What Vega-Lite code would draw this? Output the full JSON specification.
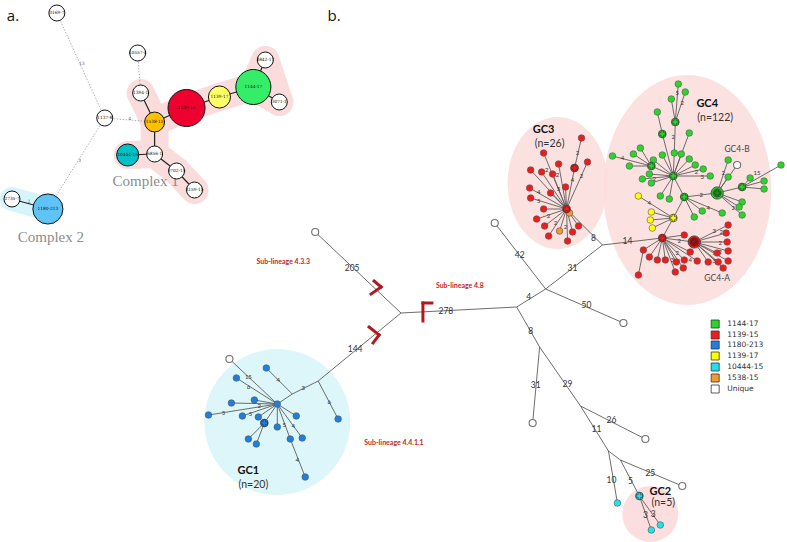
{
  "$schema": "https://vega.github.io/schema/vega-lite/v6.json",
  "width": 787,
  "height": 542,
  "autosize": {"type": "fit", "contains": "padding"},
  "padding": 0,
  "background": "white",
  "config": {"view": {"stroke": null}},
  "datasets": {
    "nodesA": [
      {"id": "3169-7", "x": 55, "y": 13, "type": "Unique", "n": 1},
      {"id": "10557-4", "x": 136, "y": 53, "type": "Unique", "n": 1},
      {"id": "3842-17", "x": 264, "y": 60, "type": "Unique", "n": 1},
      {"id": "1394-1", "x": 139, "y": 93, "type": "Unique", "n": 1},
      {"id": "1139-15", "x": 185, "y": 108, "type": "1139-15", "n": 25},
      {"id": "1139-17", "x": 218, "y": 97, "type": "1139-17", "n": 6},
      {"id": "1144-17", "x": 252, "y": 87, "type": "1144-17", "n": 22},
      {"id": "3071-1", "x": 278, "y": 102, "type": "Unique", "n": 1},
      {"id": "1137-8", "x": 103, "y": 118, "type": "Unique", "n": 1},
      {"id": "1538-15", "x": 153, "y": 122, "type": "1538-15", "n": 4},
      {"id": "10444-15", "x": 126, "y": 155, "type": "10444-15", "n": 6},
      {"id": "6856-1", "x": 153, "y": 154, "type": "Unique", "n": 1},
      {"id": "3702-15", "x": 175, "y": 171, "type": "Unique", "n": 1},
      {"id": "3159-15", "x": 193, "y": 190, "type": "Unique", "n": 1},
      {"id": "2735-7", "x": 10, "y": 199, "type": "Unique", "n": 1},
      {"id": "1180-213", "x": 46, "y": 209, "type": "1180-213", "n": 15}
    ],
    "edgesA": [
      {"s": "1394-1", "t": "1538-15", "st": "solid"},
      {"s": "1538-15", "t": "1139-15", "st": "solid"},
      {"s": "1139-15", "t": "1139-17", "st": "solid"},
      {"s": "1139-17", "t": "1144-17", "st": "solid"},
      {"s": "1144-17", "t": "3842-17", "st": "solid"},
      {"s": "1144-17", "t": "3071-1", "st": "solid"},
      {"s": "1538-15", "t": "6856-1", "st": "solid"},
      {"s": "6856-1", "t": "10444-15", "st": "solid"},
      {"s": "6856-1", "t": "3702-15", "st": "solid"},
      {"s": "3702-15", "t": "3159-15", "st": "solid"},
      {"s": "2735-7", "t": "1180-213", "st": "solid"},
      {"s": "3169-7", "t": "1137-8", "st": "dotted"},
      {"s": "10557-4", "t": "1394-1", "st": "dotted"},
      {"s": "1137-8", "t": "1538-15", "st": "dotted"},
      {"s": "1137-8", "t": "1180-213", "st": "dotted"}
    ],
    "hullA": [
      {"s": "1394-1", "t": "1538-15", "g": "c1"},
      {"s": "1538-15", "t": "1139-15", "g": "c1"},
      {"s": "1139-15", "t": "1139-17", "g": "c1"},
      {"s": "1139-17", "t": "1144-17", "g": "c1"},
      {"s": "1144-17", "t": "3842-17", "g": "c1"},
      {"s": "1144-17", "t": "3071-1", "g": "c1"},
      {"s": "3842-17", "t": "3071-1", "g": "c1"},
      {"s": "1538-15", "t": "6856-1", "g": "c1"},
      {"s": "6856-1", "t": "10444-15", "g": "c1"},
      {"s": "6856-1", "t": "3702-15", "g": "c1"},
      {"s": "3702-15", "t": "3159-15", "g": "c1"},
      {"s": "2735-7", "t": "1180-213", "g": "c2"}
    ],
    "legendB": [
      {"type": "1144-17", "x": 715, "y": 324},
      {"type": "1139-15", "x": 715, "y": 335},
      {"type": "1180-213", "x": 715, "y": 345},
      {"type": "1139-17", "x": 715, "y": 356},
      {"type": "10444-15", "x": 715, "y": 367},
      {"type": "1538-15", "x": 715, "y": 378},
      {"type": "Unique", "x": 715, "y": 389}
    ],
    "nodesB": [
      {"id": "A", "x": 400, "y": 313, "type": "J", "kind": "j"},
      {"id": "B", "x": 516, "y": 307, "type": "J", "kind": "j"},
      {"id": "C", "x": 545, "y": 289, "type": "J", "kind": "j"},
      {"id": "D", "x": 602, "y": 245, "type": "J", "kind": "j"},
      {"id": "E", "x": 539, "y": 347, "type": "J", "kind": "j"},
      {"id": "F", "x": 580, "y": 406, "type": "J", "kind": "j"},
      {"id": "G", "x": 608, "y": 451, "type": "J", "kind": "j"},
      {"id": "G2j", "x": 620, "y": 460, "type": "J", "kind": "j"},
      {"id": "J1", "x": 317, "y": 381, "type": "J", "kind": "j"},
      {"id": "J2", "x": 291, "y": 394, "type": "J", "kind": "j"},
      {"id": "L433", "x": 314, "y": 232, "type": "Unique", "kind": "u"},
      {"id": "L42", "x": 494, "y": 223, "type": "Unique", "kind": "u"},
      {"id": "L50", "x": 623, "y": 323, "type": "Unique", "kind": "u"},
      {"id": "L31b", "x": 532, "y": 423, "type": "Unique", "kind": "u"},
      {"id": "L26", "x": 645, "y": 439, "type": "Unique", "kind": "u"},
      {"id": "L25", "x": 682, "y": 486, "type": "Unique", "kind": "u"},
      {"id": "u15", "x": 228, "y": 359, "type": "Unique", "kind": "u"},
      {"id": "U1", "x": 737, "y": 165, "type": "Unique", "kind": "u"},
      {"id": "C10", "x": 617, "y": 503, "type": "10444-15", "kind": "l"},
      {"id": "GC2h", "x": 639, "y": 496, "type": "10444-15", "kind": "h"},
      {"id": "C3a", "x": 651, "y": 530, "type": "10444-15", "kind": "l"},
      {"id": "C3b", "x": 660, "y": 525, "type": "10444-15", "kind": "l"},
      {"id": "GC1h", "x": 276, "y": 404, "type": "1180-213", "kind": "l"},
      {"id": "b6", "x": 337, "y": 419, "type": "1180-213", "kind": "l"},
      {"id": "b4", "x": 265, "y": 368, "type": "1180-213", "kind": "l"},
      {"id": "b01", "x": 235, "y": 378, "type": "1180-213", "kind": "l"},
      {"id": "b02", "x": 230, "y": 403, "type": "1180-213", "kind": "l"},
      {"id": "b03", "x": 253, "y": 400, "type": "1180-213", "kind": "l"},
      {"id": "b04", "x": 207, "y": 415, "type": "1180-213", "kind": "l"},
      {"id": "b05", "x": 241, "y": 416, "type": "1180-213", "kind": "l"},
      {"id": "b06", "x": 257, "y": 417, "type": "1180-213", "kind": "l"},
      {"id": "b07", "x": 263, "y": 423, "type": "1180-213", "kind": "h"},
      {"id": "b08", "x": 247, "y": 439, "type": "1180-213", "kind": "l"},
      {"id": "b09", "x": 255, "y": 444, "type": "1180-213", "kind": "l"},
      {"id": "b10", "x": 276, "y": 427, "type": "1180-213", "kind": "l"},
      {"id": "b11", "x": 295, "y": 416, "type": "1180-213", "kind": "l"},
      {"id": "b12", "x": 301, "y": 438, "type": "1180-213", "kind": "l"},
      {"id": "b13", "x": 289, "y": 439, "type": "1180-213", "kind": "l"},
      {"id": "b14", "x": 304, "y": 477, "type": "1180-213", "kind": "l"},
      {"id": "GC3h", "x": 566, "y": 209, "type": "1139-15", "kind": "h"},
      {"id": "r01", "x": 581, "y": 138, "type": "1139-15", "kind": "l"},
      {"id": "r02", "x": 543, "y": 153, "type": "1139-15", "kind": "l"},
      {"id": "r03", "x": 587, "y": 162, "type": "1139-15", "kind": "l"},
      {"id": "r04", "x": 530, "y": 170, "type": "1139-15", "kind": "l"},
      {"id": "r05", "x": 541, "y": 172, "type": "1139-15", "kind": "l"},
      {"id": "r06", "x": 552, "y": 174, "type": "1139-15", "kind": "l"},
      {"id": "r07", "x": 558, "y": 164, "type": "1139-15", "kind": "l"},
      {"id": "r08", "x": 574, "y": 168, "type": "1139-15", "kind": "h"},
      {"id": "r09", "x": 529, "y": 188, "type": "1139-15", "kind": "l"},
      {"id": "r10", "x": 550, "y": 193, "type": "1139-15", "kind": "l"},
      {"id": "r11", "x": 565, "y": 187, "type": "1139-15", "kind": "l"},
      {"id": "r12", "x": 530, "y": 198, "type": "1139-15", "kind": "l"},
      {"id": "r13", "x": 543, "y": 209, "type": "1139-15", "kind": "l"},
      {"id": "r14", "x": 536, "y": 219, "type": "1139-15", "kind": "l"},
      {"id": "r15", "x": 544, "y": 226, "type": "1139-15", "kind": "l"},
      {"id": "r16", "x": 548, "y": 236, "type": "1139-15", "kind": "l"},
      {"id": "r17", "x": 572, "y": 232, "type": "1139-15", "kind": "l"},
      {"id": "r18", "x": 567, "y": 241, "type": "1139-15", "kind": "l"},
      {"id": "r19", "x": 578, "y": 226, "type": "1139-15", "kind": "l"},
      {"id": "o1", "x": 559, "y": 231, "type": "1538-15", "kind": "l"},
      {"id": "o2", "x": 569, "y": 213, "type": "1538-15", "kind": "l"},
      {"id": "H1", "x": 673, "y": 176, "type": "1144-17", "kind": "h"},
      {"id": "H2", "x": 717, "y": 193, "type": "1144-17", "kind": "H"},
      {"id": "H3", "x": 684, "y": 197, "type": "1144-17", "kind": "h"},
      {"id": "H4", "x": 673, "y": 218, "type": "1139-17", "kind": "h"},
      {"id": "H5", "x": 662, "y": 238, "type": "1139-15", "kind": "h"},
      {"id": "H6", "x": 694, "y": 242, "type": "1139-15", "kind": "H"},
      {"id": "H7", "x": 675, "y": 122, "type": "1144-17", "kind": "h"},
      {"id": "H8", "x": 662, "y": 134, "type": "1144-17", "kind": "h"},
      {"id": "H9", "x": 651, "y": 166, "type": "1144-17", "kind": "h"},
      {"id": "H10", "x": 742, "y": 187, "type": "1144-17", "kind": "h"},
      {"id": "g01", "x": 678, "y": 84, "type": "1144-17", "kind": "l"},
      {"id": "g02", "x": 685, "y": 92, "type": "1144-17", "kind": "l"},
      {"id": "g03", "x": 671, "y": 99, "type": "1144-17", "kind": "l"},
      {"id": "g04", "x": 657, "y": 112, "type": "1144-17", "kind": "l"},
      {"id": "g05", "x": 689, "y": 133, "type": "1144-17", "kind": "l"},
      {"id": "g06", "x": 674, "y": 153, "type": "1144-17", "kind": "l"},
      {"id": "g07", "x": 681, "y": 154, "type": "1144-17", "kind": "l"},
      {"id": "g08", "x": 662, "y": 155, "type": "1144-17", "kind": "l"},
      {"id": "g09", "x": 612, "y": 156, "type": "1144-17", "kind": "l"},
      {"id": "g10", "x": 640, "y": 148, "type": "1144-17", "kind": "l"},
      {"id": "g11", "x": 633, "y": 154, "type": "1144-17", "kind": "l"},
      {"id": "g12", "x": 629, "y": 166, "type": "1144-17", "kind": "l"},
      {"id": "g13", "x": 653, "y": 160, "type": "1144-17", "kind": "l"},
      {"id": "g14", "x": 689, "y": 159, "type": "1144-17", "kind": "l"},
      {"id": "g15", "x": 695, "y": 165, "type": "1144-17", "kind": "l"},
      {"id": "g16", "x": 703, "y": 169, "type": "1144-17", "kind": "l"},
      {"id": "g17", "x": 710, "y": 176, "type": "1144-17", "kind": "l"},
      {"id": "g18", "x": 649, "y": 174, "type": "1144-17", "kind": "l"},
      {"id": "g19", "x": 642, "y": 179, "type": "1144-17", "kind": "l"},
      {"id": "g20", "x": 651, "y": 183, "type": "1144-17", "kind": "l"},
      {"id": "g21", "x": 660, "y": 196, "type": "1144-17", "kind": "l"},
      {"id": "g22", "x": 669, "y": 199, "type": "1144-17", "kind": "l"},
      {"id": "g23", "x": 694, "y": 217, "type": "1144-17", "kind": "l"},
      {"id": "g24", "x": 702, "y": 211, "type": "1144-17", "kind": "l"},
      {"id": "g25", "x": 722, "y": 213, "type": "1144-17", "kind": "l"},
      {"id": "g26", "x": 728, "y": 160, "type": "1144-17", "kind": "l"},
      {"id": "g27", "x": 728, "y": 177, "type": "1144-17", "kind": "l"},
      {"id": "g28", "x": 742, "y": 202, "type": "1144-17", "kind": "l"},
      {"id": "g29", "x": 739, "y": 207, "type": "1144-17", "kind": "l"},
      {"id": "g30", "x": 742, "y": 215, "type": "1144-17", "kind": "l"},
      {"id": "g31", "x": 750, "y": 178, "type": "1144-17", "kind": "l"},
      {"id": "g32", "x": 764, "y": 181, "type": "1144-17", "kind": "l"},
      {"id": "g33", "x": 764, "y": 189, "type": "1144-17", "kind": "l"},
      {"id": "g34", "x": 781, "y": 165, "type": "1144-17", "kind": "l"},
      {"id": "y1", "x": 638, "y": 196, "type": "1139-17", "kind": "l"},
      {"id": "y2", "x": 651, "y": 212, "type": "1139-17", "kind": "l"},
      {"id": "y3", "x": 650, "y": 220, "type": "1139-17", "kind": "l"},
      {"id": "y4", "x": 652, "y": 228, "type": "1139-17", "kind": "l"},
      {"id": "r20", "x": 643, "y": 250, "type": "1139-15", "kind": "l"},
      {"id": "r21", "x": 638, "y": 275, "type": "1139-15", "kind": "l"},
      {"id": "r22", "x": 649, "y": 257, "type": "1139-15", "kind": "l"},
      {"id": "r23", "x": 657, "y": 260, "type": "1139-15", "kind": "l"},
      {"id": "r24", "x": 665, "y": 260, "type": "1139-15", "kind": "l"},
      {"id": "r25", "x": 684, "y": 235, "type": "1139-15", "kind": "l"},
      {"id": "r26", "x": 676, "y": 262, "type": "1139-15", "kind": "l"},
      {"id": "r27", "x": 684, "y": 260, "type": "1139-15", "kind": "l"},
      {"id": "r28", "x": 690, "y": 252, "type": "1139-15", "kind": "l"},
      {"id": "r29", "x": 675, "y": 272, "type": "1139-15", "kind": "l"},
      {"id": "r30", "x": 683, "y": 268, "type": "1139-15", "kind": "l"},
      {"id": "r31", "x": 697, "y": 261, "type": "1139-15", "kind": "l"},
      {"id": "r32", "x": 708, "y": 262, "type": "1139-15", "kind": "l"},
      {"id": "r33", "x": 718, "y": 262, "type": "1139-15", "kind": "l"},
      {"id": "r34", "x": 728, "y": 261, "type": "1139-15", "kind": "l"},
      {"id": "r35", "x": 723, "y": 268, "type": "1139-15", "kind": "l"},
      {"id": "r36", "x": 728, "y": 225, "type": "1139-15", "kind": "l"},
      {"id": "r37", "x": 726, "y": 233, "type": "1139-15", "kind": "l"},
      {"id": "r38", "x": 727, "y": 242, "type": "1139-15", "kind": "l"},
      {"id": "r39", "x": 728, "y": 251, "type": "1139-15", "kind": "l"},
      {"id": "r40", "x": 717, "y": 253, "type": "1139-15", "kind": "l"}
    ],
    "edgesB": [
      {"s": "A", "t": "L433"}, {"s": "A", "t": "B"}, {"s": "A", "t": "J1"},
      {"s": "B", "t": "C"}, {"s": "C", "t": "L42"}, {"s": "C", "t": "L50"}, {"s": "C", "t": "D"},
      {"s": "D", "t": "GC3h"}, {"s": "D", "t": "H5"},
      {"s": "B", "t": "E"}, {"s": "E", "t": "L31b"}, {"s": "E", "t": "F"}, {"s": "F", "t": "L26"}, {"s": "F", "t": "G"},
      {"s": "G", "t": "C10"}, {"s": "G", "t": "G2j"}, {"s": "G2j", "t": "GC2h"}, {"s": "G2j", "t": "L25"},
      {"s": "GC2h", "t": "C3a"}, {"s": "GC2h", "t": "C3b"},
      {"s": "J1", "t": "b6"}, {"s": "J1", "t": "J2"}, {"s": "J2", "t": "b4"}, {"s": "J2", "t": "GC1h"},
      {"s": "GC1h", "t": "u15"}, {"s": "GC1h", "t": "b01"}, {"s": "GC1h", "t": "b02"}, {"s": "GC1h", "t": "b03"},
      {"s": "GC1h", "t": "b04"}, {"s": "GC1h", "t": "b05"}, {"s": "GC1h", "t": "b06"}, {"s": "GC1h", "t": "b07"},
      {"s": "GC1h", "t": "b10"}, {"s": "GC1h", "t": "b11"}, {"s": "GC1h", "t": "b12"}, {"s": "GC1h", "t": "b13"},
      {"s": "b07", "t": "b08"}, {"s": "b07", "t": "b09"}, {"s": "b13", "t": "b14"},
      {"s": "r01", "t": "r08"}, {"s": "r08", "t": "GC3h"},
      {"s": "GC3h", "t": "r02"}, {"s": "GC3h", "t": "r03"}, {"s": "GC3h", "t": "r04"}, {"s": "GC3h", "t": "r05"},
      {"s": "GC3h", "t": "r06"}, {"s": "GC3h", "t": "r07"}, {"s": "GC3h", "t": "r09"}, {"s": "GC3h", "t": "r10"},
      {"s": "GC3h", "t": "r11"}, {"s": "GC3h", "t": "r12"}, {"s": "GC3h", "t": "r13"}, {"s": "GC3h", "t": "r14"},
      {"s": "GC3h", "t": "r15"}, {"s": "GC3h", "t": "r16"}, {"s": "GC3h", "t": "r17"}, {"s": "GC3h", "t": "r18"},
      {"s": "GC3h", "t": "r19"}, {"s": "GC3h", "t": "o1"},
      {"s": "H7", "t": "g01"}, {"s": "H7", "t": "g02"}, {"s": "H7", "t": "g03"}, {"s": "H7", "t": "g06"},
      {"s": "g06", "t": "H1"}, {"s": "H8", "t": "g04"}, {"s": "H8", "t": "H1"}, {"s": "g05", "t": "H1"},
      {"s": "g07", "t": "H1"}, {"s": "g08", "t": "H1"},
      {"s": "H9", "t": "g09"}, {"s": "H9", "t": "g10"}, {"s": "H9", "t": "g11"}, {"s": "H9", "t": "g12"}, {"s": "H9", "t": "H1"},
      {"s": "g13", "t": "H1"}, {"s": "g14", "t": "H1"}, {"s": "g15", "t": "H1"}, {"s": "g16", "t": "H1"}, {"s": "g17", "t": "H1"},
      {"s": "g18", "t": "H1"}, {"s": "g19", "t": "H1"}, {"s": "g20", "t": "H1"}, {"s": "g21", "t": "H1"}, {"s": "g22", "t": "H1"},
      {"s": "H1", "t": "H3"}, {"s": "H3", "t": "g23"}, {"s": "H3", "t": "g24"}, {"s": "H3", "t": "g25"}, {"s": "H3", "t": "H2"},
      {"s": "H2", "t": "g26"}, {"s": "H2", "t": "U1"}, {"s": "H2", "t": "g27"}, {"s": "H2", "t": "g28"},
      {"s": "H2", "t": "g29"}, {"s": "H2", "t": "g30"}, {"s": "H2", "t": "H10"},
      {"s": "H10", "t": "g31"}, {"s": "H10", "t": "g32"}, {"s": "H10", "t": "g33"}, {"s": "H10", "t": "g34"},
      {"s": "H3", "t": "H4"}, {"s": "H4", "t": "y1"}, {"s": "H4", "t": "y2"}, {"s": "H4", "t": "y3"}, {"s": "H4", "t": "y4"},
      {"s": "H4", "t": "H5"}, {"s": "H5", "t": "r20"}, {"s": "r20", "t": "r21"},
      {"s": "H5", "t": "r22"}, {"s": "H5", "t": "r23"}, {"s": "H5", "t": "r24"}, {"s": "H5", "t": "r25"},
      {"s": "H5", "t": "r26"}, {"s": "H5", "t": "r27"}, {"s": "H5", "t": "r28"}, {"s": "H5", "t": "r29"},
      {"s": "H5", "t": "r30"}, {"s": "H5", "t": "r31"}, {"s": "H5", "t": "H6"},
      {"s": "H6", "t": "r32"}, {"s": "H6", "t": "r33"}, {"s": "H6", "t": "r34"}, {"s": "H6", "t": "r35"},
      {"s": "H6", "t": "r36"}, {"s": "H6", "t": "r37"}, {"s": "H6", "t": "r38"}, {"s": "H6", "t": "r39"}, {"s": "H6", "t": "r40"}
    ],
    "labelsBig": [
      {"x": 351, "y": 268, "text": "205"}, {"x": 354, "y": 349, "text": "144"}, {"x": 445, "y": 311, "text": "278"},
      {"x": 528, "y": 297, "text": "4"}, {"x": 519, "y": 255, "text": "42"}, {"x": 586, "y": 305, "text": "50"},
      {"x": 572, "y": 268, "text": "31"}, {"x": 593, "y": 238, "text": "8"}, {"x": 627, "y": 241, "text": "14"},
      {"x": 530, "y": 331, "text": "8"}, {"x": 535, "y": 385, "text": "31"}, {"x": 567, "y": 384, "text": "29"},
      {"x": 611, "y": 420, "text": "26"}, {"x": 596, "y": 429, "text": "11"}, {"x": 650, "y": 473, "text": "25"},
      {"x": 611, "y": 480, "text": "10"}, {"x": 630, "y": 481, "text": "5"}, {"x": 645, "y": 515, "text": "3"},
      {"x": 653, "y": 514, "text": "3"}
    ],
    "labelsSmall": [
      {"x": 247, "y": 377, "text": "15"}, {"x": 247, "y": 387, "text": "6"}, {"x": 277, "y": 380, "text": "4"},
      {"x": 302, "y": 388, "text": "3"}, {"x": 328, "y": 402, "text": "6"}, {"x": 258, "y": 406, "text": "2"},
      {"x": 222, "y": 413, "text": "5"}, {"x": 249, "y": 414, "text": "5"}, {"x": 283, "y": 425, "text": "5"},
      {"x": 292, "y": 426, "text": "4"}, {"x": 296, "y": 460, "text": "4"},
      {"x": 577, "y": 153, "text": "2"}, {"x": 572, "y": 180, "text": "4"}, {"x": 581, "y": 176, "text": "2"},
      {"x": 546, "y": 170, "text": "2"}, {"x": 557, "y": 175, "text": "2"}, {"x": 538, "y": 192, "text": "4"},
      {"x": 538, "y": 201, "text": "5"}, {"x": 558, "y": 189, "text": "3"}, {"x": 548, "y": 216, "text": "2"},
      {"x": 555, "y": 223, "text": "2"}, {"x": 565, "y": 227, "text": "2"},
      {"x": 677, "y": 93, "text": "5"}, {"x": 682, "y": 103, "text": "2"}, {"x": 673, "y": 137, "text": "2"},
      {"x": 622, "y": 158, "text": "4"}, {"x": 696, "y": 172, "text": "2"}, {"x": 702, "y": 177, "text": "3"},
      {"x": 654, "y": 179, "text": "2"}, {"x": 708, "y": 208, "text": "4"}, {"x": 701, "y": 195, "text": "2"},
      {"x": 723, "y": 173, "text": "2"}, {"x": 757, "y": 173, "text": "15"}, {"x": 733, "y": 208, "text": "2"},
      {"x": 649, "y": 203, "text": "4"},
      {"x": 679, "y": 241, "text": "2"}, {"x": 714, "y": 231, "text": "3"}, {"x": 721, "y": 232, "text": "2"},
      {"x": 720, "y": 243, "text": "2"}, {"x": 720, "y": 252, "text": "2"}, {"x": 714, "y": 253, "text": "3"},
      {"x": 714, "y": 261, "text": "3"}, {"x": 677, "y": 253, "text": "2"}, {"x": 672, "y": 260, "text": "3"},
      {"x": 678, "y": 261, "text": "3"}, {"x": 690, "y": 260, "text": "4"}
    ],
    "brackets": [
      {"x": 373, "y": 281, "x2": 380, "y2": 287}, {"x": 380, "y": 287, "x2": 370, "y2": 294},
      {"x": 422, "y": 303, "x2": 431, "y2": 303}, {"x": 422, "y": 303, "x2": 422, "y2": 321},
      {"x": 368, "y": 327, "x2": 378, "y2": 335}, {"x": 378, "y": 335, "x2": 372, "y2": 343}
    ]
  },
  "layer": [
    {
      "data": {"values": [{"x": 276, "y": 422}]},
      "mark": {"type": "point", "shape": "circle", "size": 21316, "filled": true, "color": "#ddf6f9", "opacity": 1, "strokeWidth": 0},
      "encoding": {
        "x": {"field": "x", "type": "quantitative", "scale": {"domain": [0, 787], "nice": false, "zero": false}, "axis": null},
        "y": {"field": "y", "type": "quantitative", "scale": {"domain": [0, 542], "nice": false, "zero": false, "reverse": true}, "axis": null}
      }
    },
    {
      "data": {"values": [{"x": 650, "y": 514}]},
      "mark": {"type": "point", "shape": "circle", "size": 3136, "filled": true, "color": "#fcdede", "opacity": 1, "strokeWidth": 0},
      "encoding": {
        "x": {"field": "x", "type": "quantitative", "axis": null},
        "y": {"field": "y", "type": "quantitative", "axis": null}
      }
    },
    {
      "data": {"values": [{"x": 687, "y": 190}]},
      "mark": {"type": "point", "shape": "M -0.7304,0 A 0.7304,1 0 1,0 0.7304,0 A 0.7304,1 0 1,0 -0.7304,0 Z", "size": 52900, "filled": true, "color": "#fcdede", "opacity": 0.9, "strokeWidth": 0},
      "encoding": {
        "x": {"field": "x", "type": "quantitative", "axis": null},
        "y": {"field": "y", "type": "quantitative", "axis": null}
      }
    },
    {
      "data": {"values": [{"x": 557, "y": 183}]},
      "mark": {"type": "point", "shape": "M -0.7576,0 A 0.7576,1 0 1,0 0.7576,0 A 0.7576,1 0 1,0 -0.7576,0 Z", "size": 17424, "filled": true, "color": "#fcdede", "opacity": 0.9, "strokeWidth": 0},
      "encoding": {
        "x": {"field": "x", "type": "quantitative", "axis": null},
        "y": {"field": "y", "type": "quantitative", "axis": null}
      }
    },
    {
      "data": {"name": "hullA"},
      "transform": [
        {"filter": "datum.g == 'c1'"},
        {"lookup": "s", "from": {"data": {"name": "nodesA"}, "key": "id", "fields": ["x", "y"]}, "as": ["x1", "y1"]},
        {"lookup": "t", "from": {"data": {"name": "nodesA"}, "key": "id", "fields": ["x", "y"]}, "as": ["xb", "yb"]}
      ],
      "mark": {"type": "rule", "color": "#fadcdc", "strokeWidth": 28, "strokeCap": "round"},
      "encoding": {
        "x": {"field": "x1", "type": "quantitative", "axis": null},
        "y": {"field": "y1", "type": "quantitative", "axis": null},
        "x2": {"field": "xb"},
        "y2": {"field": "yb"}
      }
    },
    {
      "data": {"name": "hullA"},
      "transform": [
        {"filter": "datum.g == 'c2'"},
        {"lookup": "s", "from": {"data": {"name": "nodesA"}, "key": "id", "fields": ["x", "y"]}, "as": ["x1", "y1"]},
        {"lookup": "t", "from": {"data": {"name": "nodesA"}, "key": "id", "fields": ["x", "y"]}, "as": ["xb", "yb"]}
      ],
      "mark": {"type": "rule", "color": "#d6f5fa", "strokeWidth": 24, "strokeCap": "round"},
      "encoding": {
        "x": {"field": "x1", "type": "quantitative", "axis": null},
        "y": {"field": "y1", "type": "quantitative", "axis": null},
        "x2": {"field": "xb"},
        "y2": {"field": "yb"}
      }
    },
    {
      "data": {"values": [
        {"x": 144, "y": 181, "text": "Complex 1"},
        {"x": 49, "y": 237, "text": "Complex 2"}
      ]},
      "mark": {"type": "text", "font": "Liberation Serif", "fontSize": 15, "color": "#8c8c8c", "align": "center", "baseline": "middle"},
      "encoding": {
        "x": {"field": "x", "type": "quantitative", "axis": null},
        "y": {"field": "y", "type": "quantitative", "axis": null},
        "text": {"field": "text"}
      }
    },
    {
      "data": {"name": "edgesA"},
      "transform": [
        {"filter": "datum.st == 'dotted'"},
        {"lookup": "s", "from": {"data": {"name": "nodesA"}, "key": "id", "fields": ["x", "y"]}, "as": ["x1", "y1"]},
        {"lookup": "t", "from": {"data": {"name": "nodesA"}, "key": "id", "fields": ["x", "y"]}, "as": ["xb", "yb"]}
      ],
      "mark": {"type": "rule", "color": "#a0a0a0", "strokeWidth": 0.8, "strokeDash": [1.5, 1.5]},
      "encoding": {
        "x": {"field": "x1", "type": "quantitative", "axis": null},
        "y": {"field": "y1", "type": "quantitative", "axis": null},
        "x2": {"field": "xb"},
        "y2": {"field": "yb"}
      }
    },
    {
      "data": {"name": "edgesA"},
      "transform": [
        {"filter": "datum.st == 'solid'"},
        {"lookup": "s", "from": {"data": {"name": "nodesA"}, "key": "id", "fields": ["x", "y"]}, "as": ["x1", "y1"]},
        {"lookup": "t", "from": {"data": {"name": "nodesA"}, "key": "id", "fields": ["x", "y"]}, "as": ["xb", "yb"]}
      ],
      "mark": {"type": "rule", "color": "#222222", "strokeWidth": 1.2},
      "encoding": {
        "x": {"field": "x1", "type": "quantitative", "axis": null},
        "y": {"field": "y1", "type": "quantitative", "axis": null},
        "x2": {"field": "xb"},
        "y2": {"field": "yb"}
      }
    },
    {
      "data": {"name": "nodesA"},
      "mark": {"type": "point", "shape": "circle", "filled": true, "opacity": 1, "stroke": "#111111", "strokeWidth": 1},
      "encoding": {
        "x": {"field": "x", "type": "quantitative", "axis": null},
        "y": {"field": "y", "type": "quantitative", "axis": null},
        "fill": {"field": "type", "type": "nominal", "legend": null,
          "scale": {"domain": ["1144-17", "1139-15", "1180-213", "1139-17", "10444-15", "1538-15", "Unique"],
                    "range": ["#33ee66", "#f0002e", "#5ec4f6", "#ffff66", "#00c2c6", "#ffc000", "#ffffff"]}},
        "size": {"field": "n", "type": "quantitative", "legend": null, "scale": {"domain": [1, 25], "range": [256, 1369], "zero": false}}
      }
    },
    {
      "data": {"name": "nodesA"},
      "mark": {"type": "text", "font": "DejaVu Serif", "fontSize": 4.3, "color": "#111111", "align": "center", "baseline": "middle"},
      "encoding": {
        "x": {"field": "x", "type": "quantitative", "axis": null},
        "y": {"field": "y", "type": "quantitative", "axis": null},
        "text": {"field": "id"}
      }
    },
    {
      "data": {"values": [
        {"x": 80, "y": 64, "text": "13"}, {"x": 128, "y": 119, "text": "4"},
        {"x": 78, "y": 161, "text": "3"}, {"x": 27, "y": 202, "text": "2"}
      ]},
      "mark": {"type": "text", "font": "DejaVu Serif", "fontSize": 4.5, "color": "#555555", "align": "center", "baseline": "middle"},
      "encoding": {
        "x": {"field": "x", "type": "quantitative", "axis": null},
        "y": {"field": "y", "type": "quantitative", "axis": null},
        "text": {"field": "text"}
      }
    },
    {
      "data": {"name": "edgesB"},
      "transform": [
        {"lookup": "s", "from": {"data": {"name": "nodesB"}, "key": "id", "fields": ["x", "y"]}, "as": ["x1", "y1"]},
        {"lookup": "t", "from": {"data": {"name": "nodesB"}, "key": "id", "fields": ["x", "y"]}, "as": ["xb", "yb"]}
      ],
      "mark": {"type": "rule", "color": "#5c5c5c", "strokeWidth": 0.9},
      "encoding": {
        "x": {"field": "x1", "type": "quantitative", "axis": null},
        "y": {"field": "y1", "type": "quantitative", "axis": null},
        "x2": {"field": "xb"},
        "y2": {"field": "yb"}
      }
    },
    {
      "data": {"name": "brackets"},
      "mark": {"type": "rule", "color": "#b3181e", "strokeWidth": 3, "strokeCap": "square"},
      "encoding": {
        "x": {"field": "x", "type": "quantitative", "axis": null},
        "y": {"field": "y", "type": "quantitative", "axis": null},
        "x2": {"field": "x2"},
        "y2": {"field": "y2"}
      }
    },
    {
      "data": {"name": "labelsBig"},
      "mark": {"type": "text", "font": "Lato", "fontSize": 8.5, "color": "#333333", "align": "center", "baseline": "middle"},
      "encoding": {
        "x": {"field": "x", "type": "quantitative", "axis": null},
        "y": {"field": "y", "type": "quantitative", "axis": null},
        "text": {"field": "text"}
      }
    },
    {
      "data": {"name": "labelsSmall"},
      "mark": {"type": "text", "font": "Lato", "fontSize": 6, "color": "#333333", "align": "center", "baseline": "middle"},
      "encoding": {
        "x": {"field": "x", "type": "quantitative", "axis": null},
        "y": {"field": "y", "type": "quantitative", "axis": null},
        "text": {"field": "text"}
      }
    },
    {
      "data": {"name": "nodesB"},
      "transform": [{"filter": "datum.kind == 'u'"}],
      "mark": {"type": "point", "shape": "circle", "filled": true, "opacity": 1, "fill": "white", "stroke": "#707070", "strokeWidth": 1.1, "size": 50},
      "encoding": {
        "x": {"field": "x", "type": "quantitative", "axis": null},
        "y": {"field": "y", "type": "quantitative", "axis": null}
      }
    },
    {
      "data": {"name": "nodesB"},
      "transform": [{"filter": "datum.kind == 'l'"}],
      "mark": {"type": "point", "shape": "circle", "filled": true, "opacity": 1, "stroke": "#555555", "strokeWidth": 0.6, "size": 44},
      "encoding": {
        "x": {"field": "x", "type": "quantitative", "axis": null},
        "y": {"field": "y", "type": "quantitative", "axis": null},
        "color": {"field": "type", "type": "nominal", "legend": null,
          "scale": {"domain": ["1144-17", "1139-15", "1180-213", "1139-17", "10444-15", "1538-15", "Unique"],
                    "range": ["#2bd62b", "#ee1c1c", "#1e7fe0", "#ffff00", "#22e0ee", "#f39a2e", "#ffffff"]}}
      }
    },
    {
      "data": {"name": "nodesB"},
      "transform": [{"filter": "datum.kind == 'h'"}],
      "mark": {"type": "point", "shape": "circle", "filled": true, "opacity": 1, "stroke": "#444444", "strokeWidth": 0.7, "size": 62},
      "encoding": {
        "x": {"field": "x", "type": "quantitative", "axis": null},
        "y": {"field": "y", "type": "quantitative", "axis": null},
        "color": {"field": "type", "type": "nominal", "legend": null}
      }
    },
    {
      "data": {"name": "nodesB"},
      "transform": [{"filter": "datum.kind == 'H'"}],
      "mark": {"type": "point", "shape": "circle", "filled": true, "opacity": 1, "stroke": "#333333", "strokeWidth": 0.8, "size": 150},
      "encoding": {
        "x": {"field": "x", "type": "quantitative", "axis": null},
        "y": {"field": "y", "type": "quantitative", "axis": null},
        "color": {"field": "type", "type": "nominal", "legend": null}
      }
    },
    {
      "data": {"name": "nodesB"},
      "transform": [{"filter": "datum.kind == 'H'"}],
      "mark": {"type": "point", "shape": "circle", "filled": true, "opacity": 0.35, "color": "#000000", "strokeWidth": 0, "size": 90},
      "encoding": {
        "x": {"field": "x", "type": "quantitative", "axis": null},
        "y": {"field": "y", "type": "quantitative", "axis": null}
      }
    },
    {
      "data": {"name": "nodesB"},
      "transform": [{"filter": "datum.kind == 'h' || datum.kind == 'H'"}],
      "mark": {"type": "point", "shape": "cross", "filled": false, "opacity": 1, "stroke": "#333333", "strokeWidth": 0.6, "size": 40},
      "encoding": {
        "x": {"field": "x", "type": "quantitative", "axis": null},
        "y": {"field": "y", "type": "quantitative", "axis": null}
      }
    },
    {
      "data": {"name": "legendB"},
      "mark": {"type": "point", "shape": "square", "filled": true, "opacity": 1, "stroke": "#333333", "strokeWidth": 0.8, "size": 64},
      "encoding": {
        "x": {"field": "x", "type": "quantitative", "axis": null},
        "y": {"field": "y", "type": "quantitative", "axis": null},
        "color": {"field": "type", "type": "nominal", "legend": null}
      }
    },
    {
      "data": {"name": "legendB"},
      "mark": {"type": "text", "font": "DejaVu Sans", "fontSize": 7.5, "color": "#333333", "align": "left", "baseline": "middle", "dx": 12},
      "encoding": {
        "x": {"field": "x", "type": "quantitative", "axis": null},
        "y": {"field": "y", "type": "quantitative", "axis": null},
        "text": {"field": "type"}
      }
    },
    {
      "data": {"values": [
        {"x": 282, "y": 262, "text": "Sub-lineage 4.3.3"},
        {"x": 459, "y": 286, "text": "Sub-lineage 4.8"},
        {"x": 393, "y": 443, "text": "Sub-lineage 4.4.1.1"}
      ]},
      "mark": {"type": "text", "font": "Lato", "fontSize": 7, "fontWeight": "bold", "color": "#c0282d", "align": "center", "baseline": "middle"},
      "encoding": {
        "x": {"field": "x", "type": "quantitative", "axis": null},
        "y": {"field": "y", "type": "quantitative", "axis": null},
        "text": {"field": "text"}
      }
    },
    {
      "data": {"values": [
        {"x": 247, "y": 471, "text": "GC1"},
        {"x": 660, "y": 492, "text": "GC2"},
        {"x": 543, "y": 130, "text": "GC3"},
        {"x": 707, "y": 104, "text": "GC4"}
      ]},
      "mark": {"type": "text", "font": "Lato", "fontSize": 11, "fontWeight": "bold", "color": "#111111", "align": "center", "baseline": "middle"},
      "encoding": {
        "x": {"field": "x", "type": "quantitative", "axis": null},
        "y": {"field": "y", "type": "quantitative", "axis": null},
        "text": {"field": "text"}
      }
    },
    {
      "data": {"values": [
        {"x": 252, "y": 485, "text": "(n=20)"},
        {"x": 663, "y": 503, "text": "(n=5)"},
        {"x": 549, "y": 144, "text": "(n=26)"},
        {"x": 715, "y": 118, "text": "(n=122)"}
      ]},
      "mark": {"type": "text", "font": "Lato", "fontSize": 10.5, "color": "#333333", "align": "center", "baseline": "middle"},
      "encoding": {
        "x": {"field": "x", "type": "quantitative", "axis": null},
        "y": {"field": "y", "type": "quantitative", "axis": null},
        "text": {"field": "text"}
      }
    },
    {
      "data": {"values": [
        {"x": 737, "y": 149, "text": "GC4-B"},
        {"x": 717, "y": 278, "text": "GC4-A"}
      ]},
      "mark": {"type": "text", "font": "Lato", "fontSize": 8.5, "color": "#444444", "align": "center", "baseline": "middle"},
      "encoding": {
        "x": {"field": "x", "type": "quantitative", "axis": null},
        "y": {"field": "y", "type": "quantitative", "axis": null},
        "text": {"field": "text"}
      }
    },
    {
      "data": {"values": [
        {"x": 11, "y": 16, "text": "a."},
        {"x": 333, "y": 16, "text": "b."}
      ]},
      "mark": {"type": "text", "font": "Open Sans", "fontSize": 15, "color": "#111111", "align": "center", "baseline": "middle"},
      "encoding": {
        "x": {"field": "x", "type": "quantitative", "axis": null},
        "y": {"field": "y", "type": "quantitative", "axis": null},
        "text": {"field": "text"}
      }
    }
  ]
}
